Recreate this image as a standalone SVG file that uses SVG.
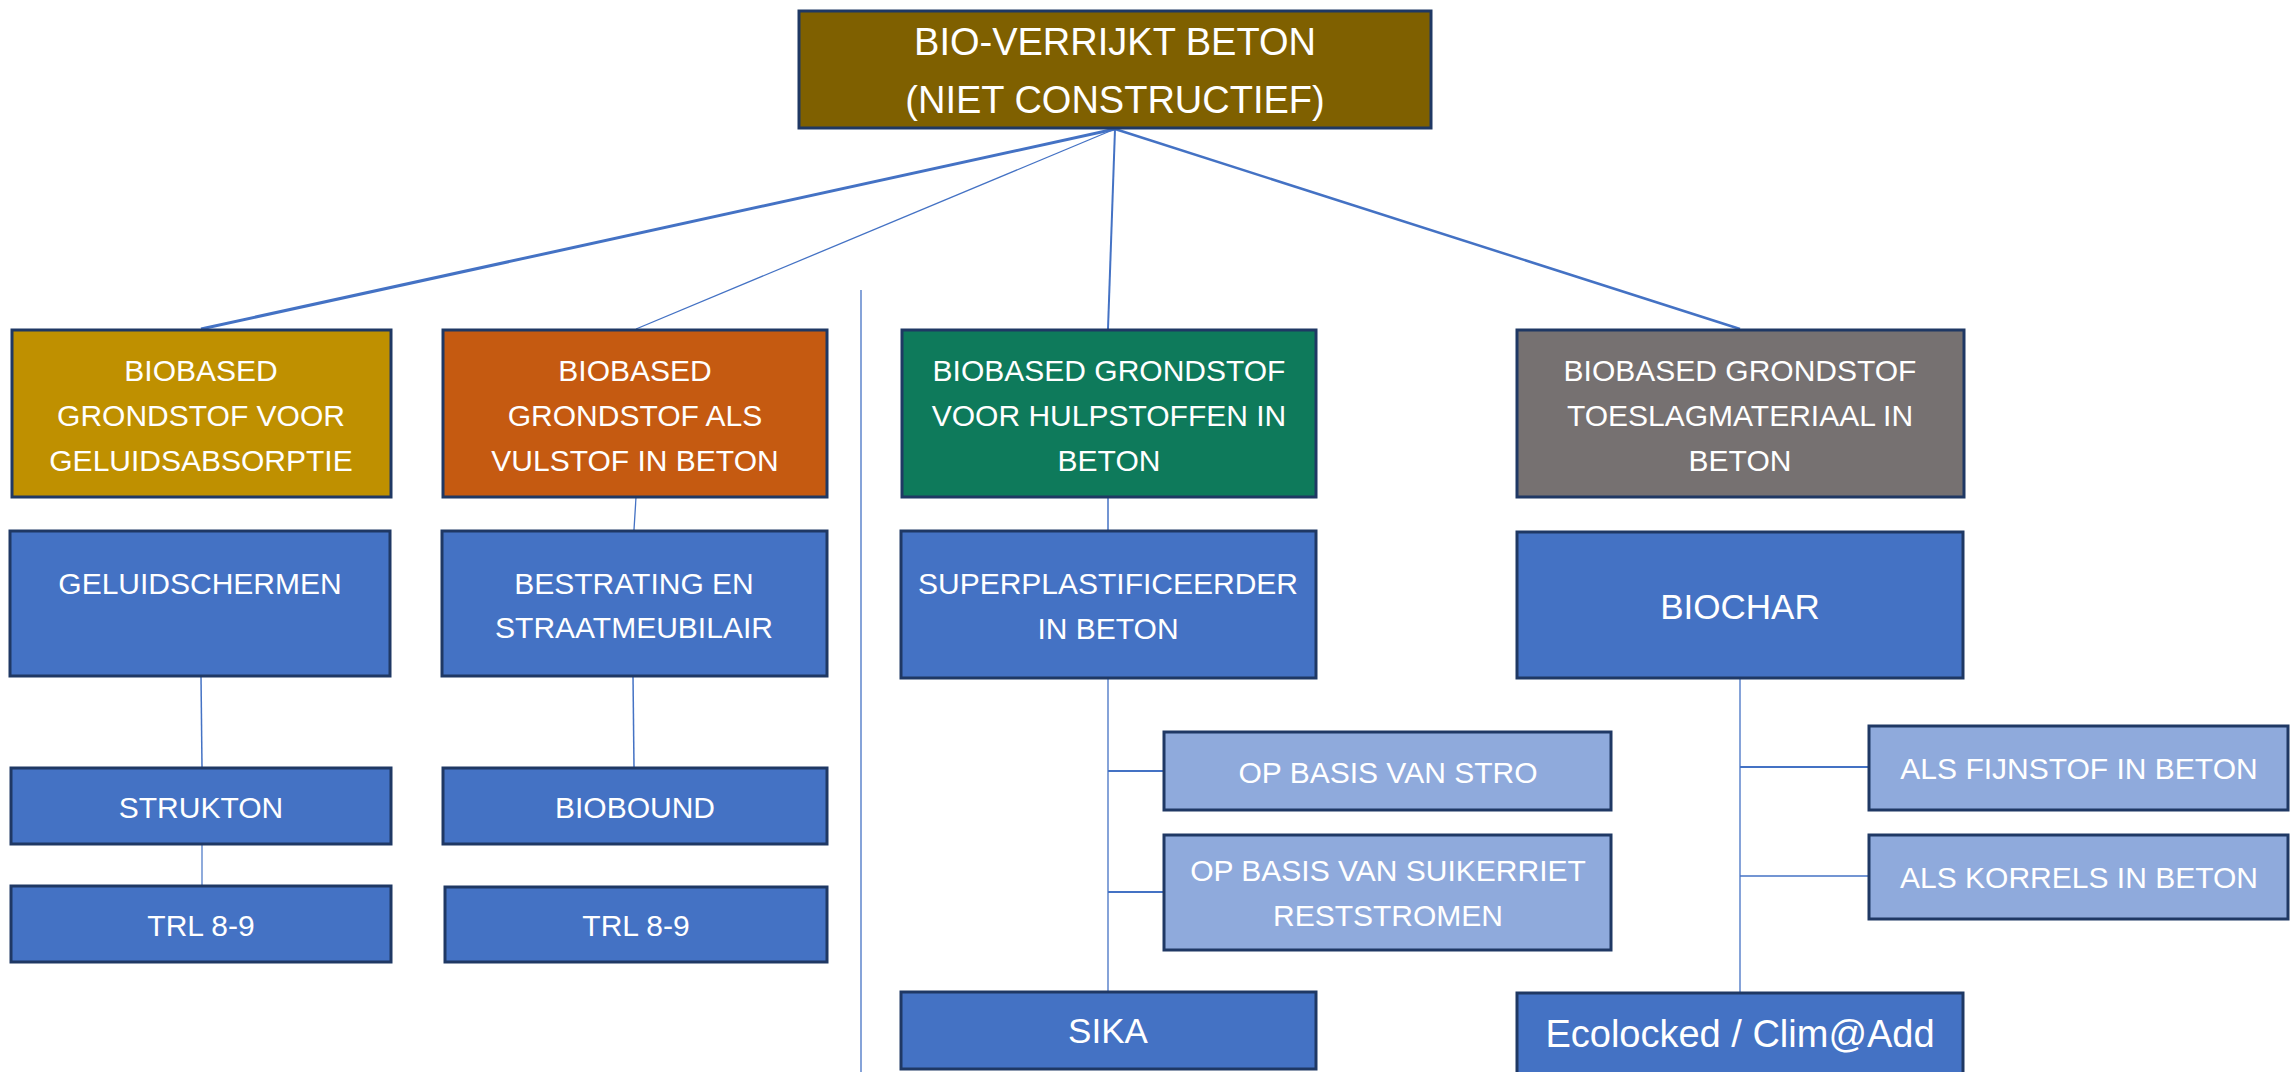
<svg xmlns="http://www.w3.org/2000/svg" width="2290" height="1072" viewBox="0 0 2290 1072">
<style>
  .box { stroke: #1F3864; stroke-width: 3; }
  .root { fill: #7F6000; }
  .gold { fill: #BF9000; }
  .orange { fill: #C55A11; }
  .green { fill: #0E7A5B; }
  .gray { fill: #767171; }
  .blue { fill: #4472C4; }
  .light { fill: #8FAADC; }
  text { font-family: "Liberation Sans", Arial, sans-serif; fill: #FFFFFF; text-anchor: middle; font-size: 30px; }
  .big { font-size: 38px; }
  .mid { font-size: 35px; }
  .wide { font-size: 38px; }
  .conn line { stroke: #4472C4; stroke-width: 1.5; fill: none; }
</style>
<rect width="2290" height="1072" fill="#FFFFFF"/>

<g id="connectors" class="conn">
  <line x1="1115" y1="129" x2="201" y2="329" style="stroke-width:3"/>
  <line x1="1115" y1="129" x2="636" y2="329" style="stroke-width:1.3"/>
  <line x1="1115" y1="129" x2="1108" y2="329" style="stroke-width:2"/>
  <line x1="1115" y1="129" x2="1740" y2="329" style="stroke-width:2.5"/>
  <line x1="636" y1="497" x2="634" y2="530" style="stroke-width:1.3"/>
  <line x1="201" y1="676" x2="202" y2="767"/>
  <line x1="202" y1="844" x2="202" y2="885" style="stroke-width:1.2"/>
  <line x1="633" y1="676" x2="634" y2="767"/>
  <line x1="1108" y1="497" x2="1108" y2="530"/>
  <line x1="1108" y1="678" x2="1108" y2="991" style="stroke-width:1.3"/>
  <line x1="1108" y1="771" x2="1164" y2="771" style="stroke-width:2.2"/>
  <line x1="1108" y1="892" x2="1164" y2="892" style="stroke-width:2.2"/>
  <line x1="1740" y1="678" x2="1740" y2="992" style="stroke-width:1.3"/>
  <line x1="1740" y1="767" x2="1869" y2="767" style="stroke-width:2"/>
  <line x1="1740" y1="876" x2="1869" y2="876" style="stroke-width:1.5"/>
  <line x1="861" y1="290" x2="861" y2="1072" style="stroke-width:1.3"/>
</g>

<g id="root">
  <rect class="box root" x="799" y="11" width="632" height="117"/>
  <text class="big" x="1115" y="55">BIO-VERRIJKT BETON</text>
  <text class="big" x="1115" y="113">(NIET CONSTRUCTIEF)</text>
</g>

<g id="geluidsabsorptie">
  <rect class="box gold" x="12" y="330" width="379" height="167"/>
  <text x="201" y="381">BIOBASED</text>
  <text x="201" y="426">GRONDSTOF VOOR</text>
  <text x="201" y="471">GELUIDSABSORPTIE</text>
</g>

<g id="vulstof">
  <rect class="box orange" x="443" y="330" width="384" height="167"/>
  <text x="635" y="381">BIOBASED</text>
  <text x="635" y="426">GRONDSTOF ALS</text>
  <text x="635" y="471">VULSTOF IN BETON</text>
</g>

<g id="hulpstoffen">
  <rect class="box green" x="902" y="330" width="414" height="167"/>
  <text x="1109" y="381">BIOBASED GRONDSTOF</text>
  <text x="1109" y="426">VOOR HULPSTOFFEN IN</text>
  <text x="1109" y="471">BETON</text>
</g>

<g id="toeslagmateriaal">
  <rect class="box gray" x="1517" y="330" width="447" height="167"/>
  <text x="1740" y="381">BIOBASED GRONDSTOF</text>
  <text x="1740" y="426">TOESLAGMATERIAAL IN</text>
  <text x="1740" y="471">BETON</text>
</g>

<g id="geluidschermen">
  <rect class="box blue" x="10" y="531" width="380" height="145"/>
  <text x="200" y="594">GELUIDSCHERMEN</text>
</g>

<g id="bestrating">
  <rect class="box blue" x="442" y="531" width="385" height="145"/>
  <text x="634" y="594">BESTRATING EN</text>
  <text x="634" y="638">STRAATMEUBILAIR</text>
</g>

<g id="superplastificeerder">
  <rect class="box blue" x="901" y="531" width="415" height="147"/>
  <text x="1108" y="594">SUPERPLASTIFICEERDER</text>
  <text x="1108" y="639">IN BETON</text>
</g>

<g id="biochar">
  <rect class="box blue" x="1517" y="532" width="446" height="146"/>
  <text class="mid" x="1740" y="619">BIOCHAR</text>
</g>

<g id="strukton">
  <rect class="box blue" x="11" y="768" width="380" height="76"/>
  <text x="201" y="818">STRUKTON</text>
</g>

<g id="biobound">
  <rect class="box blue" x="443" y="768" width="384" height="76"/>
  <text x="635" y="818">BIOBOUND</text>
</g>

<g id="trl-strukton">
  <rect class="box blue" x="11" y="886" width="380" height="76"/>
  <text x="201" y="936">TRL 8-9</text>
</g>

<g id="trl-biobound">
  <rect class="box blue" x="445" y="887" width="382" height="75"/>
  <text x="636" y="936">TRL 8-9</text>
</g>

<g id="stro">
  <rect class="box light" x="1164" y="732" width="447" height="78"/>
  <text x="1388" y="783">OP BASIS VAN STRO</text>
</g>

<g id="suikerriet">
  <rect class="box light" x="1164" y="835" width="447" height="115"/>
  <text x="1388" y="881">OP BASIS VAN SUIKERRIET</text>
  <text x="1388" y="926">RESTSTROMEN</text>
</g>

<g id="fijnstof">
  <rect class="box light" x="1869" y="726" width="419" height="84"/>
  <text x="2079" y="779">ALS FIJNSTOF IN BETON</text>
</g>

<g id="korrels">
  <rect class="box light" x="1869" y="835" width="419" height="84"/>
  <text x="2079" y="888">ALS KORRELS IN BETON</text>
</g>

<g id="sika">
  <rect class="box blue" x="901" y="992" width="415" height="77"/>
  <text class="mid" x="1108" y="1043">SIKA</text>
</g>

<g id="ecolocked">
  <rect class="box blue" x="1517" y="993" width="446" height="90"/>
  <text class="wide" x="1740" y="1047">Ecolocked / Clim@Add</text>
</g>
</svg>
